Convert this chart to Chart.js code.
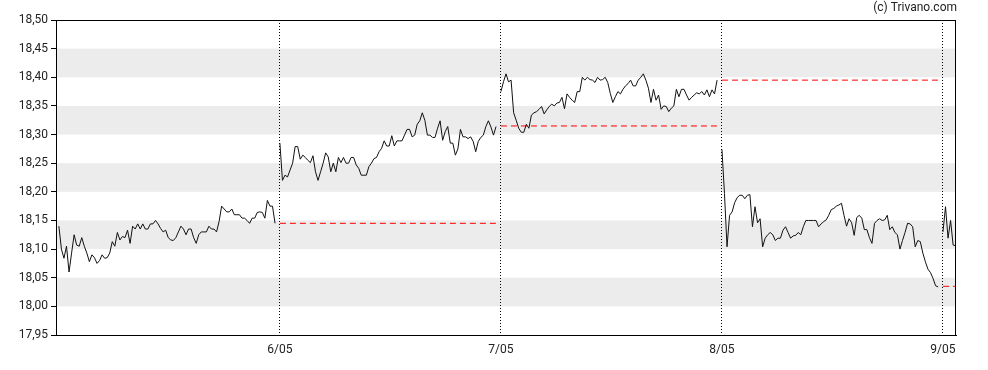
<!DOCTYPE html>
<html>

<head>
  <title>Intraday chart</title>
  <script src="https://cdn.jsdelivr.net/npm/chart.js"></script>
  <style>
    body { margin: 0; background: #fff; }
    #wrap { width: 988px; height: 370px; }
  </style>
</head>

<body>
  <div id="wrap"><canvas id="myChart" width="988" height="370"></canvas></div>
  <script>

    // day labels (vertical dotted lines at day 1..4)
    let dayLabels = ['5/05', '6/05', '7/05', '8/05', '9/05'];

    // intraday prices, one array per session
    let day5 = [18.14, 18.10, 18.084, 18.105, 18.06, 18.093, 18.125, 18.107, 18.105, 18.12, 18.105, 18.093, 18.078, 18.09, 18.085, 18.075, 18.08, 18.09, 18.084, 18.085,
      18.093, 18.113, 18.105, 18.129, 18.116, 18.122, 18.12, 18.133, 18.11, 18.14, 18.135, 18.144, 18.135, 18.144, 18.135, 18.135, 18.144, 18.144, 18.15, 18.144,
      18.136, 18.13, 18.133, 18.12, 18.116, 18.115, 18.12, 18.13, 18.14, 18.135, 18.125, 18.135, 18.135, 18.12, 18.11, 18.125, 18.13, 18.13, 18.13, 18.14,
      18.135, 18.135, 18.13, 18.148, 18.175, 18.17, 18.165, 18.165, 18.17, 18.16, 18.16, 18.16, 18.154, 18.154, 18.15, 18.145, 18.154, 18.154, 18.164, 18.165,
      18.164, 18.154, 18.185, 18.175, 18.175, 18.145];
    let day6 = [18.285, 18.22, 18.229, 18.226, 18.238, 18.25, 18.279, 18.279, 18.257, 18.264, 18.26, 18.255, 18.251, 18.263, 18.235, 18.22, 18.235, 18.25, 18.268, 18.261,
      18.235, 18.25, 18.235, 18.26, 18.251, 18.26, 18.25, 18.25, 18.26, 18.26, 18.247, 18.241, 18.229, 18.229, 18.229, 18.244, 18.25, 18.258, 18.26, 18.27,
      18.276, 18.289, 18.28, 18.28, 18.298, 18.28, 18.289, 18.289, 18.289, 18.299, 18.309, 18.309, 18.296, 18.299, 18.318, 18.324, 18.338, 18.325, 18.299, 18.299,
      18.295, 18.295, 18.311, 18.324, 18.29, 18.305, 18.314, 18.285, 18.285, 18.264, 18.275, 18.309, 18.296, 18.296, 18.293, 18.296, 18.288, 18.27, 18.288, 18.295,
      18.299, 18.314, 18.324, 18.313, 18.299, 18.314];
    let day7 = [18.375, 18.392, 18.406, 18.392, 18.395, 18.338, 18.325, 18.311, 18.304, 18.304, 18.318, 18.311, 18.334, 18.338, 18.34, 18.344, 18.349, 18.336, 18.343, 18.349,
      18.353, 18.35, 18.355, 18.356, 18.365, 18.345, 18.371, 18.365, 18.36, 18.356, 18.375, 18.375, 18.40, 18.395, 18.40, 18.396, 18.395, 18.391, 18.40, 18.395,
      18.396, 18.40, 18.391, 18.372, 18.356, 18.366, 18.375, 18.371, 18.379, 18.385, 18.389, 18.395, 18.385, 18.385, 18.395, 18.40, 18.406, 18.395, 18.381, 18.356,
      18.379, 18.36, 18.369, 18.344, 18.35, 18.349, 18.34, 18.346, 18.35, 18.379, 18.366, 18.379, 18.379, 18.369, 18.36, 18.365, 18.369, 18.373, 18.371, 18.375,
      18.369, 18.378, 18.366, 18.378, 18.371, 18.395];
    let day8 = [18.274, 18.197, 18.104, 18.159, 18.165, 18.181, 18.19, 18.194, 18.194, 18.188, 18.194, 18.195, 18.139, 18.174, 18.146, 18.153, 18.104, 18.119, 18.125, 18.129,
      18.125, 18.115, 18.119, 18.119, 18.133, 18.139, 18.129, 18.119, 18.123, 18.124, 18.129, 18.125, 18.139, 18.15, 18.15, 18.15, 18.15, 18.15, 18.139, 18.144,
      18.148, 18.151, 18.159, 18.169, 18.171, 18.175, 18.177, 18.18, 18.159, 18.14, 18.153, 18.146, 18.124, 18.155, 18.159, 18.154, 18.134, 18.134, 18.12, 18.11,
      18.145, 18.15, 18.153, 18.15, 18.151, 18.159, 18.134, 18.139, 18.129, 18.125, 18.10, 18.115, 18.129, 18.145, 18.144, 18.139, 18.104, 18.115, 18.113, 18.093,
      18.078, 18.065, 18.059, 18.049, 18.036, 18.034];
    let day9 = [18.13, 18.174, 18.119, 18.15, 18.107, 18.106];

    // previous close, drawn as red dashed line over the next session
    let prevClose = [18.145, 18.315, 18.395, 18.035];

    // shaded horizontal bands
    let bands = [[18.40, 18.45], [18.30, 18.35], [18.20, 18.25], [18.10, 18.15], [18.00, 18.05]];

    let sessions = [day5, day6, day7, day8, day9];
    let span = 0.978;
    let xMin = -0.013, xMax = 4.059;

    let datasets = sessions.map((vals, d) => {
      let step = d < 4 ? span / (vals.length - 1) : span / 85;
      return {
        data: vals.map((v, i) => ({ x: d + i * step, y: v })),
        borderColor: '#111',
        borderWidth: 1,
        pointRadius: 0,
        fill: false,
        tension: 0
      };
    });

    prevClose.forEach((v, i) => {
      let d = i + 1;
      datasets.push({
        data: [{ x: d, y: v }, { x: d < 4 ? d + span : xMax, y: v }],
        borderColor: '#ff0000',
        borderWidth: 1,
        borderDash: [6, 4],
        pointRadius: 0,
        fill: false
      });
    });

    let bandsPlugin = {
      id: 'bands',
      // drawn before the scales so the dotted day lines stay on top
      beforeDraw(chart) {
        let { ctx, chartArea, scales } = chart;
        ctx.save();
        ctx.fillStyle = '#ececec';
        bands.forEach(b => {
          let y1 = scales.y.getPixelForValue(b[1]);
          let y0 = scales.y.getPixelForValue(b[0]);
          ctx.fillRect(chartArea.left, y1, chartArea.right - chartArea.left, y0 - y1);
        });
        ctx.restore();
      },
      afterDraw(chart) {
        let { ctx, chartArea } = chart;
        ctx.save();
        ctx.strokeStyle = '#000';
        ctx.lineWidth = 1;
        ctx.strokeRect(chartArea.left + 0.5, chartArea.top + 0.5, chartArea.right - chartArea.left - 1, chartArea.bottom - chartArea.top);
        ctx.fillStyle = '#222';
        ctx.font = '12px Roboto';
        ctx.textAlign = 'right';
        ctx.textBaseline = 'middle';
        ctx.fillText('(c) Trivano.com', 957, 8);
        ctx.restore();
      }
    };

    let ctx = document.getElementById('myChart').getContext('2d');
    let myChart = new Chart(ctx, {
      type: 'line',
      data: { datasets: datasets },
      options: {
        responsive: false,
        animation: false,
        layout: { padding: { top: 20, right: 32, left: 0, bottom: 0 } },
        plugins: { legend: { display: false }, tooltip: { enabled: false } },
        scales: {
          x: {
            type: 'linear',
            min: xMin,
            max: xMax,
            afterBuildTicks: axis => { axis.ticks = [1, 2, 3, 4].map(v => ({ value: v })); },
            afterFit: axis => { axis.height = 35; },
            ticks: {
              autoSkip: false,
              maxRotation: 0,
              padding: 8,
              color: '#222',
              font: { family: 'Roboto', size: 12 },
              callback: v => dayLabels[v]
            },
            grid: { color: '#000', lineWidth: 1, drawTicks: false },
            border: { color: '#000', dash: [1, 2] }
          },
          y: {
            min: 17.95,
            max: 18.50,
            afterFit: axis => { axis.width = 56; },
            afterBuildTicks: axis => {
              let t = [];
              for (let i = 0; i <= 11; i++) t.push({ value: 17.95 + i * 0.05 });
              axis.ticks = t;
            },
            ticks: {
              padding: 3,
              color: '#222',
              font: { family: 'Roboto', size: 12 },
              callback: v => v.toFixed(2).replace('.', ',')
            },
            grid: { drawOnChartArea: false, color: '#000', tickLength: 5 },
            border: { color: '#000' }
          }
        }
      },
      plugins: [bandsPlugin]
    });

  </script>
</body>

</html>
